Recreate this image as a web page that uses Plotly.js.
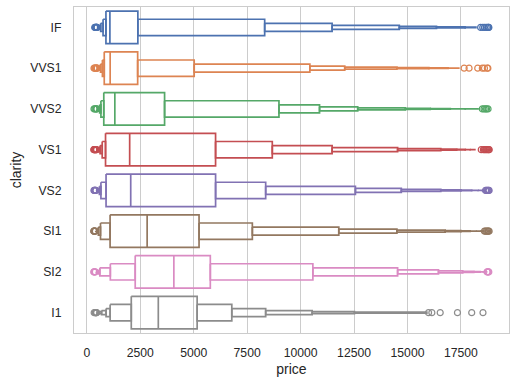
<!DOCTYPE html>
<html>
<head>
<meta charset="utf-8">
<script src="https://cdn.plot.ly/plotly-3.0.1.min.js"></script>
<style>html,body{margin:0;padding:0;background:#fff;}#chart{width:519px;height:385px;}</style>
</head>
<body>
<div id="chart"></div>
<script>
// Categories (top to bottom) and colours
const clarity = ['IF', 'VVS1', 'VVS2', 'VS1', 'VS2', 'SI1', 'SI2', 'I1'];
const colors = ['#4C72B0', '#DD8452', '#55A868', '#C44E52', '#8172B3', '#937860', '#DA8BC3', '#8C8C8C'];
const xTicks = [0, 2500, 5000, 7500, 10000, 12500, 15000, 17500];

// Medians
const medians = [1080, 1093, 1311, 2005, 2054, 2822, 4072, 3344];

// Letter values: lower and upper edge of each level (level 1 = quartiles, outward)
const lowerIF   = [895, 760, 650, 600, 560, 530, 510];
const upperIF   = [2388, 8320, 11474, 14617, 16357, 17696, 18200];
const lowerVVS1 = [816, 730, 640, 590, 555, 530, 515, 500];
const upperVVS1 = [2379, 5023, 10434, 12066, 14506, 16000, 16900, 17400];
const lowerVVS2 = [794, 660, 600, 565, 545, 530, 515, 505, 495];
const upperVVS2 = [3638, 8988, 10886, 12673, 14897, 16063, 17000, 17700, 18300];
const lowerVS1  = [876, 720, 620, 570, 545, 525, 510, 500, 490];
const upperVS1  = [6023, 8676, 11474, 14538, 16558, 17300, 17700, 17929, 18150];
const lowerVS2  = [900, 660, 590, 555, 530, 510, 495, 480, 470, 460];
const upperVS2  = [6024, 8367, 12565, 14711, 16558, 17500, 18000, 18300, 18500, 18600];
const lowerSI1  = [1089, 640, 540, 500, 480, 465, 450, 440, 430, 420];
const upperSI1  = [5250, 7743, 11787, 14506, 16763, 17500, 17929, 18200, 18400, 18550];
const lowerSI2  = [2264, 1100, 610, 560, 520, 500, 480, 465, 455, 445];
const upperSI2  = [5777, 10574, 14538, 16450, 17584, 18100, 18400, 18550, 18650, 18700];
const lowerI1   = [2080, 1091, 900, 690, 560, 480];
const upperI1   = [5161, 6782, 8367, 10541, 12519, 15905];

// Outliers
const outIF   = [369, 400, 420, 440, 455, 470, 480, 18420, 18520, 18600, 18680, 18750, 18790, 18806];
const outVVS1 = [336, 370, 400, 430, 450, 470, 490, 17650, 17880, 18285, 18500, 18600, 18735, 18760];
const outVVS2 = [336, 380, 420, 450, 470, 18500, 18580, 18650, 18700, 18768];
const outVS1  = [327, 340, 360, 380, 400, 420, 440, 460, 18450, 18550, 18600, 18650, 18700, 18750, 18795, 18823];
const outVS2  = [334, 357, 370, 390, 410, 430, 18650, 18690, 18720, 18760, 18790, 18818];
const outSI1  = [326, 335, 350, 360, 380, 400, 18600, 18650, 18700, 18750, 18780, 18818];
const outSI2  = [326, 345, 370, 400, 18720, 18750, 18780, 18804];
const outI1   = [345, 394, 412, 430, 440, 460, 15985, 16140, 16530, 17337, 18004, 18531];

const lowers = [lowerIF, lowerVVS1, lowerVVS2, lowerVS1, lowerVS2, lowerSI1, lowerSI2, lowerI1];
const uppers = [upperIF, upperVVS1, upperVVS2, upperVS1, upperVS2, upperSI1, upperSI2, upperI1];
const outliers = [outIF, outVVS1, outVVS2, outVS1, outVS2, outSI1, outSI2, outI1];

const maxWidth = 0.8;
const traces = [];

function addRect(xs, ys, x0, x1, yc, h) {
  xs.push(x0, x1, x1, x0, x0, null);
  ys.push(yc - h / 2, yc - h / 2, yc + h / 2, yc + h / 2, yc - h / 2, null);
}

clarity.forEach((name, j) => {
  const lo = lowers[j], hi = uppers[j];
  const xs = [], ys = [];
  for (let i = 0; i < lo.length; i++) {
    const h = maxWidth * Math.pow(0.5, i);
    if (i === 0) {
      addRect(xs, ys, lo[0], hi[0], j, h);
    } else {
      addRect(xs, ys, lo[i], lo[i - 1], j, h);
      addRect(xs, ys, hi[i - 1], hi[i], j, h);
    }
  }
  traces.push({
    type: 'scatter', mode: 'lines', x: xs, y: ys, name: name,
    line: {color: colors[j], width: 1.7, simplify: false},
    hoverinfo: 'skip', showlegend: false
  });
  traces.push({
    type: 'scatter', mode: 'lines',
    x: [medians[j], medians[j]], y: [j - maxWidth / 2, j + maxWidth / 2],
    line: {color: colors[j], width: 1.7}, hoverinfo: 'skip', showlegend: false
  });
  traces.push({
    type: 'scatter', mode: 'markers',
    x: outliers[j], y: outliers[j].map(() => j),
    marker: {symbol: 'circle-open', size: 6, color: colors[j], line: {width: 1.2, color: colors[j]}},
    hoverinfo: 'skip', showlegend: false
  });
});

const fontFam = 'Liberation Sans, Arial, sans-serif';
const layout = {
  width: 519, height: 385,
  margin: {l: 74, r: 9.5, t: 7.3, b: 51.5},
  paper_bgcolor: '#ffffff', plot_bgcolor: '#ffffff',
  font: {family: fontFam, color: '#262626', size: 12.2},
  showlegend: false,
  xaxis: {
    range: [-599, 19748],
    tickvals: xTicks, ticktext: xTicks.map(String),
    showgrid: true, gridcolor: '#cccccc', gridwidth: 1,
    zeroline: false, showline: true, linecolor: '#cccccc', linewidth: 1.1, mirror: true,
    ticks: 'outside', ticklen: 8, tickcolor: 'rgba(0,0,0,0)',
    tickfont: {size: 12.2, color: '#262626'},
    title: {text: 'price', font: {size: 14, color: '#262626'}, standoff: 5}
  },
  yaxis: {
    range: [7.5, -0.5],
    tickvals: clarity.map((_, i) => i), ticktext: clarity,
    showgrid: false, zeroline: false,
    showline: true, linecolor: '#cccccc', linewidth: 1.1, mirror: true,
    ticks: 'outside', ticklen: 9, tickcolor: 'rgba(0,0,0,0)',
    tickfont: {size: 12.2, color: '#262626'},
    title: {text: 'clarity', font: {size: 14, color: '#262626'}, standoff: 5}
  }
};

Plotly.newPlot('chart', traces, layout, {displayModeBar: false, staticPlot: true});
</script>
</body>
</html>
